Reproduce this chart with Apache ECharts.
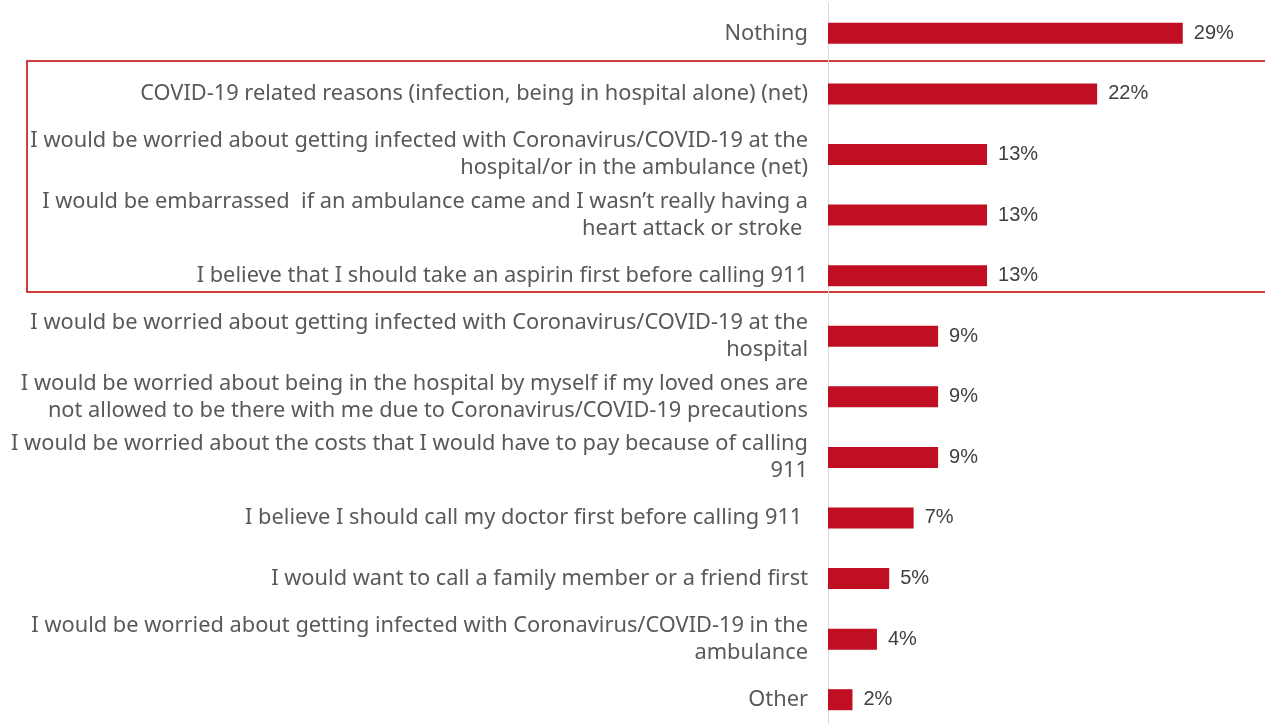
<!DOCTYPE html>
<html>
<head>
<meta charset="utf-8">
<script src="https://cdn.jsdelivr.net/npm/echarts@6/dist/echarts.min.js"></script>
<style>
  html, body { margin: 0; padding: 0; background: #ffffff; overflow: hidden; }
  #chart { width: 1265px; height: 732px; }
</style>
</head>
<body>
<div id="chart"></div>
<script>
// Reasons for not calling 911, share of respondents (%)
const categories = [
  'Nothing',
  'COVID-19 related reasons (infection, being in hospital alone) (net)',
  'I would be worried about getting infected with Coronavirus/COVID-19 at the\nhospital/or in the ambulance (net)',
  'I would be embarrassed  if an ambulance came and I wasn\u2019t really having a\nheart attack or stroke ',
  'I believe that I should take an aspirin first before calling 911',
  'I would be worried about getting infected with Coronavirus/COVID-19 at the\nhospital',
  'I would be worried about being in the hospital by myself if my loved ones are\nnot allowed to be there with me due to Coronavirus/COVID-19 precautions',
  'I would be worried about the costs that I would have to pay because of calling\n911',
  'I believe I should call my doctor first before calling 911 ',
  'I would want to call a family member or a friend first',
  'I would be worried about getting infected with Coronavirus/COVID-19 in the\nambulance',
  'Other'
];
const values = [29, 22, 13, 13, 13, 9, 9, 9, 7, 5, 4, 2];

const chart = echarts.init(document.getElementById('chart'));

chart.setOption({
  backgroundColor: '#ffffff',
  animation: false,
  grid: { left: 828, width: 367, top: 3, height: 727, containLabel: false },
  xAxis: {
    type: 'value', min: 0, max: 30, show: false
  },
  yAxis: {
    type: 'category',
    data: categories,
    inverse: true,
    axisLine: { show: true, lineStyle: { color: '#d9d9d9', width: 1 } },
    axisTick: { show: false },
    axisLabel: {
      margin: 20,
      color: '#595959',
      fontFamily: 'Noto Sans',
      fontSize: 21.8,
      lineHeight: 27,
      align: 'right'
    }
  },
  series: [{
    type: 'bar',
    data: values,
    barWidth: 21,
    itemStyle: { color: '#c00e22' },
    label: {
      show: true,
      position: 'right',
      distance: 11,
      formatter: '{c}%',
      color: '#404040',
      fontFamily: 'Liberation Sans',
      fontSize: 20,
      padding: [8, 0, 0, 0]
    }
  }],
  graphic: [{
    type: 'rect',
    shape: { x: 27, y: 61, width: 1250, height: 231 },
    style: { fill: 'none', stroke: '#c00000', lineWidth: 1.5 },
    silent: true
  }]
});
</script>
</body>
</html>
